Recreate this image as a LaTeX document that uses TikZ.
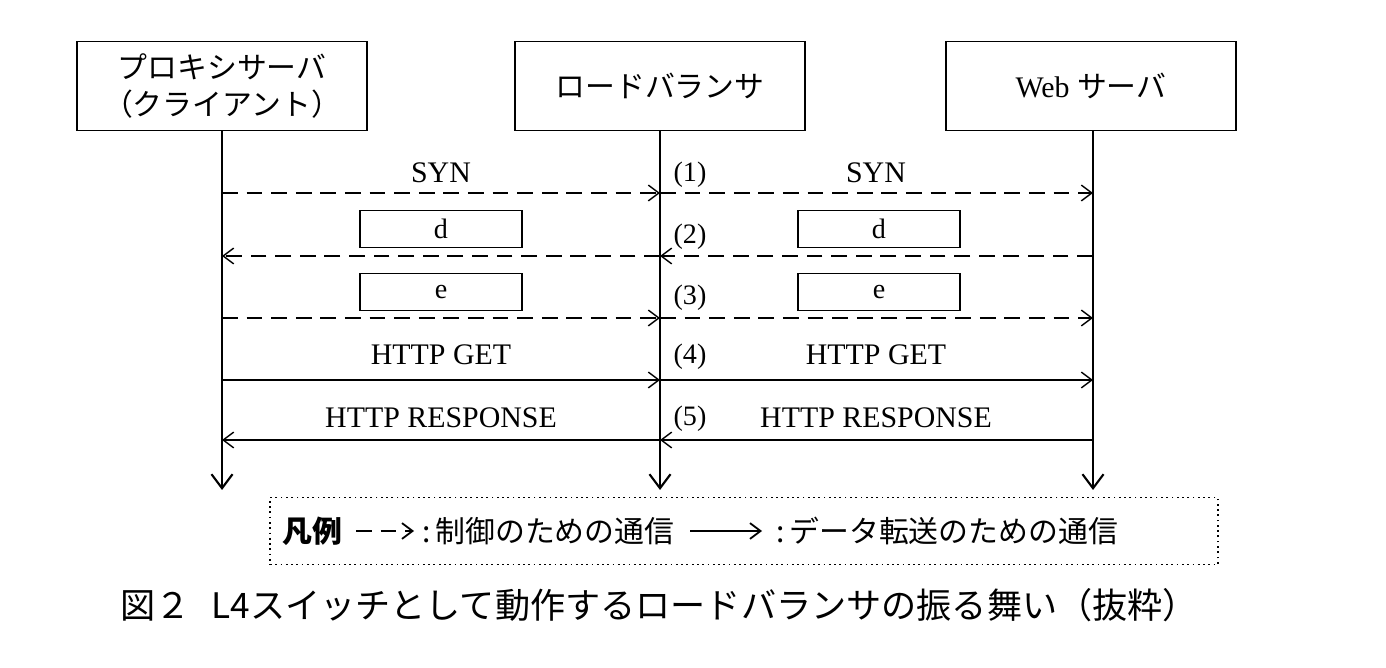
\documentclass[tikz,border=0pt]{standalone}
\usepackage{fontspec}
\setmainfont{Liberation Serif}
\newfontfamily\jp{Noto Sans CJK JP}
\usetikzlibrary{arrows.meta}
\begin{document}
\begin{tikzpicture}[x=0.02cm,y=-0.02cm,
  actor/.style={draw,line width=1pt,minimum width=5.8cm,minimum height=1.78cm,align=center,font=\fontsize{17}{21}\selectfont},
  life/.style={line width=1.2pt,-{Straight Barb[length=8pt,width=12pt]}},
  msg/.style={line width=0.8pt,-{Straight Barb[length=6pt,width=9pt]}},
  ctl/.style={msg,dash pattern=on 9pt off 5pt},
  blank/.style={draw,line width=1pt,minimum width=3.24cm,minimum height=0.74cm,font=\fontsize{16}{18}\selectfont},
  lbl/.style={font=\fontsize{17}{20}\selectfont},
  num/.style={font=\fontsize{16}{20}\selectfont}]
\useasboundingbox (0,0) rectangle (1386,668);
\node[actor] (p) at (222,86) {{\jp プロキシサーバ}\\{\jp （クライアント）}};
\node[actor] (l) at (660,86) {\jp ロードバランサ};
\node[actor] (w) at (1091,86) {Web {\jp サーバ}};
\coordinate (pe) at (222,490); \coordinate (le) at (660,490); \coordinate (we) at (1093,490);
\draw[life] (222,131) -- (pe);
\draw[life] (660,131) -- (le);
\draw[life] (1093,131) -- (we);
\foreach \y/\n in {193/1,256/2,318/3,380/4,440/5}{
  \coordinate (p\n) at (222,\y); \coordinate (l\n) at (660,\y); \coordinate (w\n) at (1093,\y);}
\draw[ctl] (p1) -- (l1); \draw[ctl] (l1) -- (w1);
\draw[ctl] (l2) -- (p2); \draw[ctl] (w2) -- (l2);
\draw[ctl] (p3) -- (l3); \draw[ctl] (l3) -- (w3);
\draw[msg] (p4) -- (l4); \draw[msg] (l4) -- (w4);
\draw[msg] (l5) -- (p5); \draw[msg] (w5) -- (l5);
\node[lbl] (s1) at (441,173) {SYN};
\node[lbl] (s2) at (876,173) {SYN};
\node[num] (n1) at (690,175) {(1)};
\node[num] (n2) at (690,237) {(2)};
\node[num] (n3) at (690,298) {(3)};
\node[num] (n4) at (690,357) {(4)};
\node[num] (n5) at (690,419) {(5)};
\node[blank] (d1) at (441,229) {d};
\node[blank] (d2) at (879,229) {d};
\node[blank] (e1) at (441,292) {e};
\node[blank] (e2) at (879,292) {e};
\node[lbl] (g1) at (441,355) {HTTP GET};
\node[lbl] (g2) at (876,355) {HTTP GET};
\node[lbl] (r1) at (441,418) {HTTP RESPONSE};
\node[lbl] (r2) at (876,418) {HTTP RESPONSE};
\node[draw,dotted,line width=1pt,minimum width=18.96cm,minimum height=1.34cm] (leg) at (744,531) {};
\node[anchor=west,font=\jp\bfseries\fontsize{17}{20}\selectfont] (lg) at (276,531) {凡例};
\coordinate (a1) at (356,531); \coordinate (a2) at (414,531);
\draw[ctl,line width=1pt] (a1) -- (a2);
\node[anchor=west,font=\jp\fontsize{17}{20}\selectfont] (lt1) at (416,531) {:\,制御のための通信};
\coordinate (b1) at (690,531); \coordinate (b2) at (762,531);
\draw[msg,line width=1pt] (b1) -- (b2);
\node[anchor=west,font=\jp\fontsize{17}{20}\selectfont] (lt2) at (770,531) {:\,データ転送のための通信};
\node[anchor=west,font=\jp\fontsize{20}{24}\selectfont] (cap) at (114,605) {図２\hspace{0.6em}L4スイッチとして動作するロードバランサの振る舞い（抜粋）};
\end{tikzpicture}
\end{document}
